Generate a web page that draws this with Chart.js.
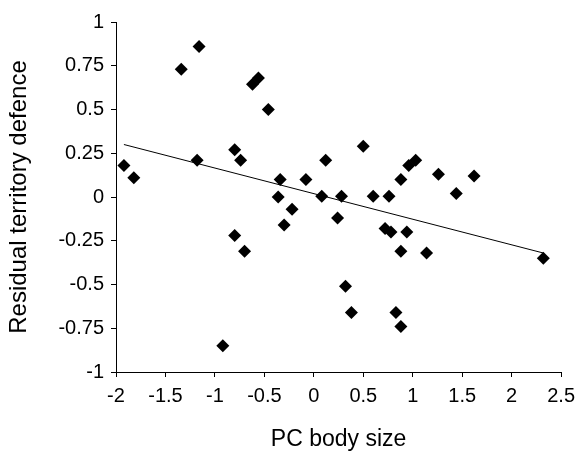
<!DOCTYPE html>
<html>
<head>
<meta charset="utf-8">
<script src="https://cdn.jsdelivr.net/npm/chart.js@4"></script>
<style>
  html, body { margin: 0; padding: 0; background: #fff; }
  #wrap { width: 582px; height: 459px; }
</style>
</head>
<body>
<div id="wrap"><canvas id="chart" width="582" height="459"></canvas></div>
<script>
// PC body size vs residual territory defence
const bodySize = [-1.92, -1.82, -1.34, -1.16, -1.18, -0.80, -0.74, -0.62, -0.56, -0.46,
  -0.34, -0.36, -0.22, -0.08, -0.30, -0.80, -0.70, -0.92, 0.12, 0.50,
  0.08, 0.28, 0.24, 0.60, 0.76, 0.88, 0.96, 1.03, 1.26, 1.62,
  1.44, 0.72, 0.78, 0.94, 0.88, 1.14, 2.32, 0.32, 0.38, 0.83, 0.88]
const territory = [0.18, 0.11, 0.73, 0.86, 0.21, 0.27, 0.21, 0.645, 0.68, 0.50,
  0.10, 0.00, -0.07, 0.10, -0.16, -0.22, -0.31, -0.85, 0.21, 0.29,
  0.005, 0.005, -0.12, 0.005, 0.005, 0.10, 0.18, 0.21, 0.13, 0.12,
  0.02, -0.18, -0.20, -0.20, -0.31, -0.32, -0.35, -0.51, -0.66, -0.66, -0.74]
// regression line end points
const trendX = [-1.92, 2.32]
const trendY = [0.30, -0.32]

const xTicks = [-2, -1.5, -1, -0.5, 0, 0.5, 1, 1.5, 2, 2.5]
const yTicks = [-1, -0.75, -0.5, -0.25, 0, 0.25, 0.5, 0.75, 1]

const points = bodySize.map((x, i) => ({ x: x, y: territory[i] }))
const trend = trendX.map((x, i) => ({ x: x, y: trendY[i] }))

const font = "'Liberation Sans', Arial, sans-serif"
Chart.defaults.font.family = font
Chart.defaults.color = "#000"

const ctx = document.getElementById("chart").getContext("2d")
new Chart(ctx, {
  type: "scatter",
  data: {
    datasets: [
      {
        label: "data",
        data: points,
        pointStyle: "rectRot",
        pointRadius: 6.5,
        backgroundColor: "#000",
        borderColor: "#000",
        borderWidth: 0,
      },
      {
        label: "trend",
        type: "line",
        data: trend,
        borderColor: "#000",
        borderWidth: 1,
        pointRadius: 0,
        fill: false,
      },
    ],
  },
  options: {
    responsive: false,
    animation: false,
    layout: { padding: { left: 0, right: 16, top: 22, bottom: 0 } },
    plugins: {
      legend: { display: false },
      tooltip: { enabled: false },
    },
    scales: {
      x: {
        type: "linear",
        min: -2,
        max: 2.5,
        afterBuildTicks: (s) => { s.ticks = xTicks.map(v => ({ value: v })) },
        afterFit: (s) => { s.height = 87 },
        ticks: { font: { size: 20 }, padding: 7, maxRotation: 0, callback: (v) => String(v) },
        grid: { drawOnChartArea: false, tickLength: 5, color: "#000" },
        border: { color: "#000", width: 1 },
        title: { display: true, text: "PC body size", font: { size: 23 }, padding: { top: 0, bottom: 6 } },
      },
      y: {
        type: "linear",
        min: -1,
        max: 1,
        afterBuildTicks: (s) => { s.ticks = yTicks.map(v => ({ value: v })) },
        afterFit: (s) => { s.width = 116 },
        ticks: { font: { size: 20 }, padding: 7, callback: (v) => String(v) },
        grid: { drawOnChartArea: false, tickLength: 5, color: "#000" },
        border: { color: "#000", width: 1 },
        title: { display: true, text: "Residual territory defence", font: { size: 24 }, padding: { top: 5, bottom: 0 } },
      },
    },
  },
})
</script>
</body>
</html>
